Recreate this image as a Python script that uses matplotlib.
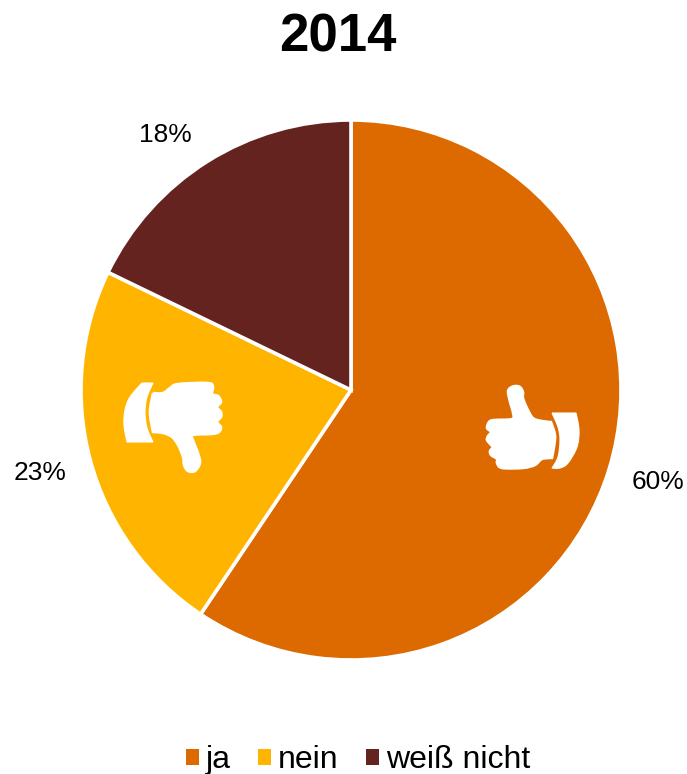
#!/usr/bin/env python3
"""Pie chart of the 2014 survey answers with thumb icons on the yes/no wedges."""

import matplotlib
matplotlib.use("Agg")
import matplotlib.pyplot as plt
from matplotlib.patches import PathPatch
from matplotlib.path import Path

plt.rcParams["font.family"] = ["Liberation Sans", "DejaVu Sans"]

TITLE = "2014"
CATEGORIES = ["ja", "nein", "weiß nicht"]
VALUES = [60, 23, 18]
VALUE_LABELS = ["60%", "23%", "18%"]
COLORS = ["#DD6A00", "#FFB400", "#652320"]

WIDTH, HEIGHT = 687, 774
CX, CY, RADIUS = 351, 390, 270

# Label centres in image pixels, (x, y) with y pointing down.
LABEL_CENTRES = [(658, 482), (40, 473), (165, 135)]

# Icon outlines in image pixels. A repeated point gives a sharp corner.
THUMB_UP_HAND = [
    (515, 386), (510, 388), (508, 392), (510, 402), (513, 413), (512, 419),
    (494, 420), (489, 422), (487, 428), (491, 432), (488, 436), (487, 440), (491, 445),
    (493, 447), (490, 451), (491, 455), (497, 459), (497, 463), (502, 468), (523, 468),
    (535, 465), (542, 459), (552, 458), (552, 458), (554, 447), (555, 435), (551, 422),
    (551, 422), (542, 421), (533, 418), (527, 408), (523, 398), (523, 392), (520, 387),
]
THUMB_UP_CUFF = [
    (552, 413), (552, 413), (576, 413), (576, 413), (579, 430), (577, 447), (568, 463),
    (560, 468), (552, 468), (552, 468), (558, 457), (560, 440), (558, 427),
]
THUMB_DOWN_HAND = [
    (153, 393), (153, 393), (163, 393), (170, 388), (178, 384), (208, 383), (213, 387),
    (212, 394), (218, 396), (221, 402), (217, 407), (221, 412), (221, 417), (217, 422),
    (221, 427), (219, 432), (212, 434), (193, 435), (193, 440), (198, 453), (200, 463),
    (195, 471), (188, 471), (184, 465), (183, 457), (178, 445), (172, 437), (163, 433),
    (153, 432), (153, 432), (151, 422), (150, 410),
]
THUMB_DOWN_CUFF = [
    (142, 383), (142, 383), (153, 383), (153, 383), (147, 397), (145, 412), (147, 428),
    (153, 442), (153, 442), (127, 442), (127, 442), (124, 425), (125, 410), (130, 397),
]


def to_data(point):
    """Image pixel -> data units of the pie axes."""
    return (point[0] - CX) / RADIUS, (CY - point[1]) / RADIUS


def tangent(pts, i):
    """Catmull-Rom tangent at point i, zero at a doubled (corner) point."""
    n = len(pts)
    prev_pt, here, next_pt = pts[i - 1], pts[i], pts[(i + 1) % n]
    if here == prev_pt or here == next_pt:
        return 0.0, 0.0
    return (next_pt[0] - prev_pt[0]) / 6, (next_pt[1] - prev_pt[1]) / 6


def smooth_path(points):
    """Closed spline outline through the given pixel points."""
    pts = [to_data(p) for p in points]
    n = len(pts)
    verts = [pts[0]]
    codes = [Path.MOVETO]
    for i in range(n):
        j = (i + 1) % n
        t1 = tangent(pts, i)
        t2 = tangent(pts, j)
        verts += [(pts[i][0] + t1[0], pts[i][1] + t1[1]),
                  (pts[j][0] - t2[0], pts[j][1] - t2[1]),
                  pts[j]]
        codes += [Path.CURVE4] * 3
    return Path(verts, codes)


fig = plt.figure(figsize=(WIDTH / 100, HEIGHT / 100), dpi=100, facecolor="white")
ax = fig.add_axes([0, 0, 1, 1])

wedges, texts = ax.pie(
    VALUES, labels=VALUE_LABELS, colors=COLORS, startangle=90, counterclock=False,
    textprops={"fontsize": 19, "color": "black"},
    wedgeprops={"edgecolor": "white", "linewidth": 2.6},
)
for t, centre in zip(texts, LABEL_CENTRES):
    t.set_position(to_data(centre))
    t.set_ha("center")
    t.set_va("center")

ax.set_xlim(-CX / RADIUS, (WIDTH - CX) / RADIUS)
ax.set_ylim((CY - HEIGHT) / RADIUS, CY / RADIUS)
ax.set_aspect("equal")
ax.axis("off")

# hands get a heavier edge so the fingers close up; cuffs stay crisp
for outline, lw in ((THUMB_UP_HAND, 1.8), (THUMB_UP_CUFF, 0.8),
                    (THUMB_DOWN_HAND, 1.8), (THUMB_DOWN_CUFF, 0.8)):
    ax.add_patch(PathPatch(smooth_path(outline), facecolor="white",
                           edgecolor="white", linewidth=lw))

fig.text(338 / WIDTH, 1 - 38 / HEIGHT, TITLE, fontsize=38, fontweight="bold",
         ha="center", va="center")

fig.legend(
    wedges, CATEGORIES, loc="center", bbox_to_anchor=(358 / WIDTH, 1 - 760 / HEIGHT),
    ncol=3, frameon=False, fontsize=23, handlelength=0.4, handleheight=0.4,
    handletextpad=0.22, columnspacing=0.85, borderpad=0, borderaxespad=0,
)
for h in fig.legends[0].legend_handles:
    h.set_edgecolor("none")

fig.savefig("out.png", dpi=100)
